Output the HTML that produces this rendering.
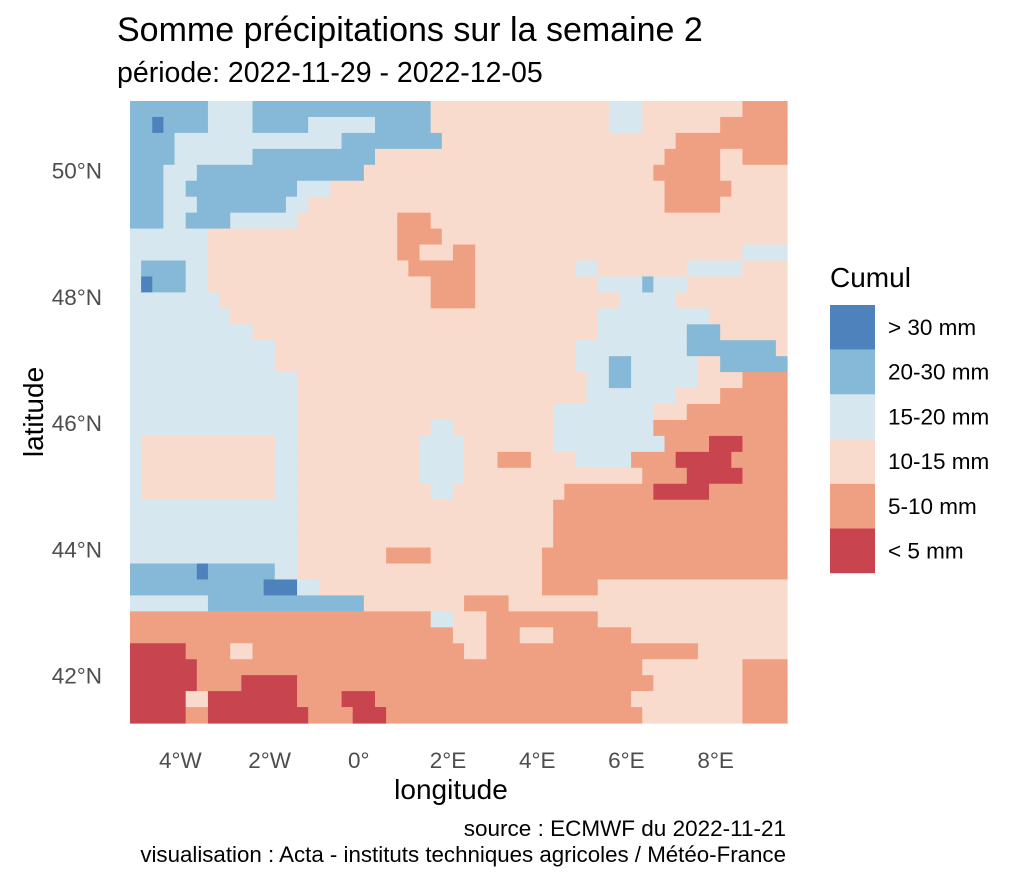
<!DOCTYPE html>
<html><head><meta charset="utf-8">
<style>
body{margin:0;background:#fff;font-family:"Liberation Sans",Arial,sans-serif;}
svg text{font-family:"Liberation Sans",Arial,sans-serif;}
</style></head>
<body>
<svg id="chart" width="1024" height="878" viewBox="0 0 1024 878" xmlns="http://www.w3.org/2000/svg">
<text x="117" y="41" font-size="34" fill="#000">Somme précipitations sur la semaine 2</text>
<text x="117" y="82" font-size="28.5" fill="#000">période: 2022-11-29 - 2022-12-05</text>
<g id="cells"></g>
<g id="xticks"></g>
<g id="yticks"></g>
<text x="451" y="799" font-size="28" text-anchor="middle" fill="#000">longitude</text>
<text x="0" y="0" font-size="28" text-anchor="middle" fill="#000" transform="translate(43,412) rotate(-90)">latitude</text>
<text x="830" y="287" font-size="28" fill="#000">Cumul</text>
<g id="legend"></g>
<text x="786" y="836" font-size="22.5" text-anchor="end" fill="#000">source : ECMWF du 2022-11-21</text>
<text x="786" y="862" font-size="22.3" text-anchor="end" fill="#000">visualisation : Acta - instituts techniques agricoles / Météo-France</text>
</svg>
<script>
// categories: B >30, b 20-30, l 15-20, p 10-15, o 5-10, r <5
const categories = ["> 30 mm","20-30 mm","15-20 mm","10-15 mm","5-10 mm","< 5 mm"];
const codes = ["B","b","l","p","o","r"];
const colors = ["#4d82bc","#86b8d8","#d7e7f0","#f9dbcd","#efa083","#c8444f"];
const lonTicks = [-4,-2,0,2,4,6,8];
const lonLabels = ["4°W","2°W","0°","2°E","4°E","6°E","8°E"];
const latTicks = [50,48,46,44,42];
const latLabels = ["50°N","48°N","46°N","44°N","42°N"];
const rows = [
"b7 l4 b16 p16 l3 p9 o4",
"b2 B1 b4 l4 b5 l6 b5 p16 l3 p7 o6",
"b4 l15 b9 p21 o10",
"b4 l7 b11 p26 o5 p2 o4",
"b3 l3 b15 p26 o6 p6",
"b3 l2 b10 l3 p30 o6 p5",
"b3 l3 b8 l2 p32 o5 p6",
"b3 l2 b4 l6 p9 o3 p32",
"l7 p17 o4 p31",
"l7 p17 o2 p3 o2 p24 l4",
"l1 b4 l2 p18 o6 p9 l2 p8 l5 p4",
"l1 B1 b3 l2 p20 o4 p11 l4 b1 l3 p9",
"l8 p19 o4 p13 l5 p10",
"l9 p33 l10 p7",
"l11 p31 l8 b3 p6",
"l13 p27 l10 b8 p1",
"l13 p27 l3 b2 l6 p2 b6",
"l15 p26 l2 b2 l6 p4 o4",
"l15 p26 l8 p4 o6",
"l15 p23 l9 p3 o9",
"l15 p12 l2 p9 l9 o12",
"l1 p12 l2 p11 l4 p8 l10 o4 r3 o4",
"l1 p12 l2 p11 l4 p3 o3 p4 l5 o4 r5 o5",
"l1 p12 l2 p11 l4 p16 o4 r5 o4",
"l1 p12 l2 p12 l2 p10 o8 r5 o7",
"l15 p23 o21",
"l15 p23 o21",
"l15 p23 o21",
"l15 p8 o4 p10 o22",
"b6 B1 b6 l2 p22 o22",
"b12 B3 l2 p20 o5 p17",
"l7 b14 p9 o4 p25",
"o27 l2 p3 o10 p17",
"o29 p3 o3 p3 o7 p14",
"r5 o4 p2 o19 p2 o19 p8",
"r6 o40 p9 o4",
"r6 o4 r5 o32 p8 o4",
"r5 p2 r8 o4 r3 o23 p10 o4",
"r5 o2 r9 o4 r3 o23 p9 o4"
];
const lonMin=-5.13, lonMax=9.6, latMin=41.25, latMax=51.1;
const x0=130,x1=787,y0=101,y1=723;
function xs(lon){return x0+(lon-lonMin)/(lonMax-lonMin)*(x1-x0);}
function ys(lat){return y0+(latMax-lat)/(latMax-latMin)*(y1-y0);}
const NS="http://www.w3.org/2000/svg";
const g=document.getElementById('cells');
const nCols=59, nRows=rows.length;
const cw=(x1-x0)/nCols, ch=(y1-y0)/nRows;
rows.forEach((r,j)=>{
  let i=0;
  r.split(' ').forEach(tok=>{
    const c=tok[0], n=parseInt(tok.slice(1));
    const rect=document.createElementNS(NS,'rect');
    
    
    rect.setAttribute('x',(x0+i*cw).toFixed(2));
    rect.setAttribute('y',(y0+j*ch).toFixed(2));
    rect.setAttribute('width',(n*cw+0.6).toFixed(2));
    rect.setAttribute('height',(ch+0.6).toFixed(2));
    rect.setAttribute('fill',colors[codes.indexOf(c)]);
    g.appendChild(rect);
    i+=n;
  });
});
const xt=document.getElementById('xticks');
lonTicks.forEach((v,k)=>{
  const t=document.createElementNS(NS,'text');
  
  
  t.setAttribute('x',xs(v));t.setAttribute('y',768);
  t.setAttribute('text-anchor','middle');t.setAttribute('font-size','22.5');t.setAttribute('fill','#4d4d4d');
  t.textContent=lonLabels[k];xt.appendChild(t);
});
const yt=document.getElementById('yticks');
latTicks.forEach((v,k)=>{
  const t=document.createElementNS(NS,'text');
  
  
  t.setAttribute('x',102);t.setAttribute('y',ys(v)+8);
  t.setAttribute('text-anchor','end');t.setAttribute('font-size','22.5');t.setAttribute('fill','#4d4d4d');
  t.textContent=latLabels[k];yt.appendChild(t);
});
const lg=document.getElementById('legend');
categories.forEach((c,k)=>{
  const r=document.createElementNS(NS,'rect');
  
  
  r.setAttribute('x',830);r.setAttribute('y',305+k*44.7);
  r.setAttribute('width',45);r.setAttribute('height',44.7);r.setAttribute('fill',colors[k]);
  lg.appendChild(r);
  const t=document.createElementNS(NS,'text');
  
  
  t.setAttribute('x',888);t.setAttribute('y',305+k*44.7+30);
  t.setAttribute('font-size','22.5');t.setAttribute('fill','#000');
  t.textContent=c;lg.appendChild(t);
});
</script>
</body></html>
